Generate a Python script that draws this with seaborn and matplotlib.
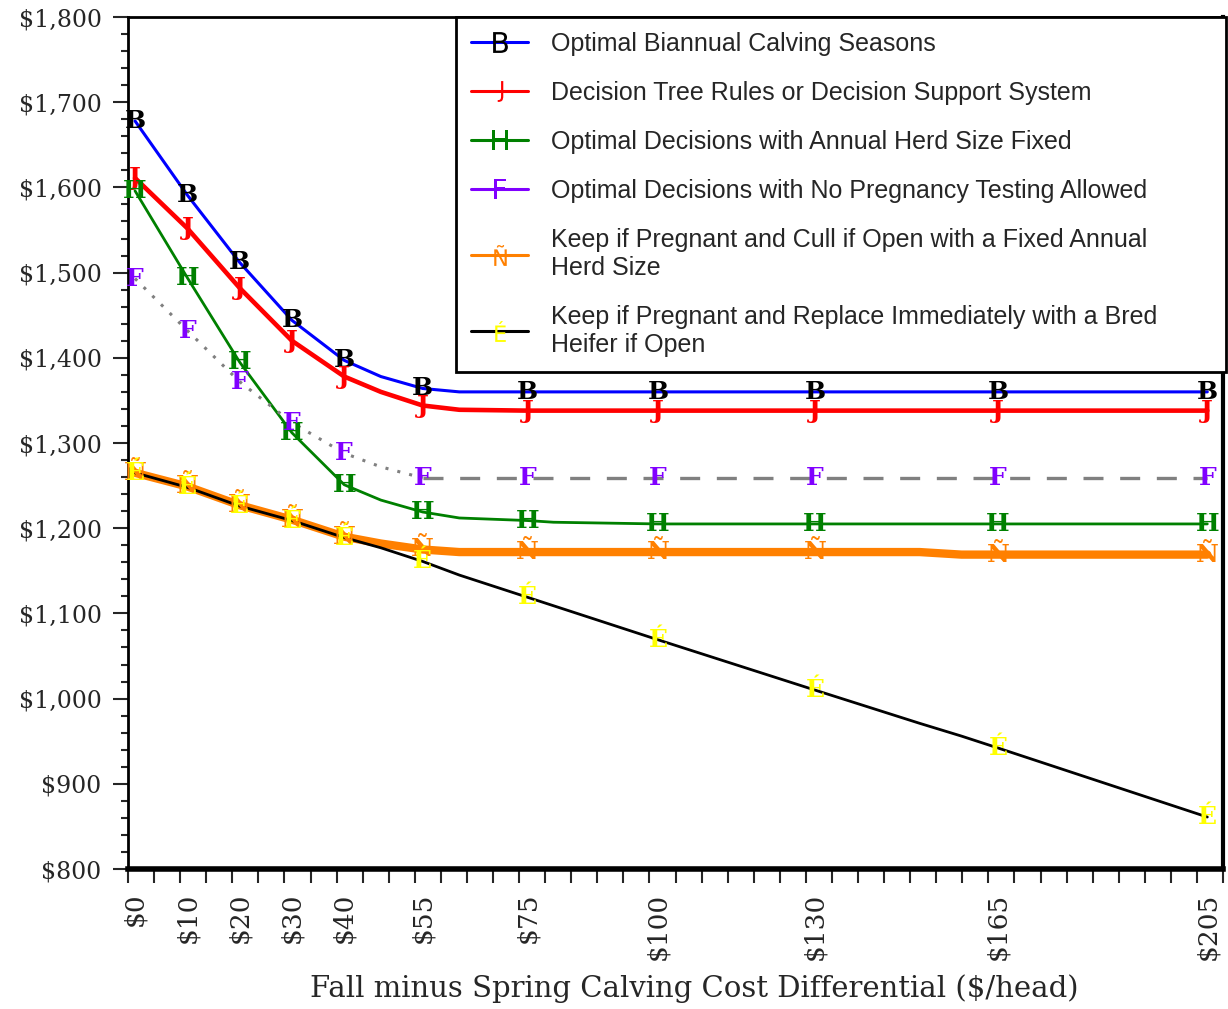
import numpy as np
import pandas as pd
import matplotlib
matplotlib.use("Agg")
import matplotlib.pyplot as plt
import seaborn as sns
from matplotlib.lines import Line2D
from matplotlib.ticker import FixedLocator, MultipleLocator
from matplotlib.font_manager import FontProperties

# ---------------- data ----------------
cost = [0, 10, 20, 30, 40, 47, 55, 62, 75, 80, 100, 130, 150, 158, 165, 205]
biannual = [1678, 1591, 1512, 1444, 1397, 1378, 1364, 1360, 1360, 1360, 1360, 1360, 1360, 1360, 1360, 1360]
decision_tree = [1611, 1552, 1482, 1420, 1378, 1360, 1344, 1339, 1338, 1338, 1338, 1338, 1338, 1338, 1338, 1338]
herd_fixed = [1596, 1494, 1395, 1312, 1251, 1233, 1219, 1212, 1209, 1207, 1205, 1205, 1205, 1205, 1205, 1205]
no_preg_test = [1493, 1432, 1372, 1324, 1288, 1272, 1259, 1259, 1259, 1259, 1259, 1259, 1259, 1259, 1259, 1259]
cull_open = [1265, 1249, 1227, 1210, 1190, 1182, 1175, 1172, 1172, 1172, 1172, 1172, 1172, 1169, 1169, 1169]
replace_bred = [1265, 1248, 1226, 1209, 1189, 1177, 1161, 1145, 1119, 1109, 1069, 1010, 971, 956, 942, 861]

tick_values = [0, 10, 20, 30, 40, 55, 75, 100, 130, 165, 205]
tick_labels = ["$0", "$10", "$20", "$30", "$40", "$55", "$75", "$100", "$130", "$165", "$205"]
y_ticks = [800, 900, 1000, 1100, 1200, 1300, 1400, 1500, 1600, 1700, 1800]
y_labels = ["$800", "$900", "$1,000", "$1,100", "$1,200", "$1,300", "$1,400",
            "$1,500", "$1,600", "$1,700", "$1,800"]

series_names = [
    "Optimal Biannual Calving Seasons",
    "Decision Tree Rules or Decision Support System",
    "Optimal Decisions with Annual Herd Size Fixed",
    "Optimal Decisions with No Pregnancy Testing Allowed",
    "Keep if Pregnant and Cull if Open with a Fixed Annual\nHerd Size",
    "Keep if Pregnant and Replace Immediately with a Bred\nHeifer if Open",
]
marker_letters = ["B", "J", "H", "F", "Ñ", "É"]

# ---------------- styling ----------------
sns.set_style("white")
plt.rcParams["font.family"] = ["DejaVu Serif"]

fig = plt.figure(figsize=(12.28, 10.09), dpi=100)
ax = fig.add_axes([128 / 1228, 1 - 869 / 1009, (1223 - 128) / 1228, (869 - 17) / 1009])

df = pd.DataFrame({"cost": cost, "biannual": biannual, "tree": decision_tree,
                   "herd": herd_fixed, "nopreg": no_preg_test,
                   "cull": cull_open, "replace": replace_bred})

line_colors = ["#0000ff", "#ff0000", "#008000", "#808080", "#ff8000", "#000000"]
legend_line_colors = ["#0000ff", "#ff0000", "#008000", "#8000ff", "#ff8000", "#000000"]
marker_colors = ["#000000", "#ff0000", "#008000", "#8000ff", "#ff8000", "#ffff00"]
cols = ["biannual", "tree", "herd", "nopreg", "cull", "replace"]

sns.lineplot(data=df, x="cost", y="biannual", ax=ax, color=line_colors[0], linewidth=2.2, legend=False)
sns.lineplot(data=df, x="cost", y="tree", ax=ax, color=line_colors[1], linewidth=3.3, legend=False)
sns.lineplot(data=df, x="cost", y="herd", ax=ax, color=line_colors[2], linewidth=2.0, legend=False)
sns.lineplot(data=df[df["cost"] <= 55], x="cost", y="nopreg", ax=ax, color=line_colors[3],
             linewidth=2.2, linestyle=(0, (1, 3)), legend=False)
sns.lineplot(data=df[df["cost"] >= 55], x="cost", y="nopreg", ax=ax, color=line_colors[3],
             linewidth=2.4, linestyle=(0, (6, 5)), legend=False)
sns.lineplot(data=df, x="cost", y="cull", ax=ax, color=line_colors[4], linewidth=6.0, legend=False)
sns.lineplot(data=df, x="cost", y="replace", ax=ax, color=line_colors[5], linewidth=2.0, legend=False)

# letter markers at the labelled cost values
for col, letter, mc in zip(cols, marker_letters, marker_colors):
    vals = dict(zip(df["cost"], df[col]))
    for xv in tick_values:
        ax.text(xv, vals[xv], letter, color=mc, fontsize=18, fontweight="bold",
                family="DejaVu Serif", ha="center", va="center", zorder=6)

# axes
ax.set_xlim(-1.34, 208.0)
ax.set_ylim(800, 1800)
ax.xaxis.set_major_locator(FixedLocator(tick_values))
ax.set_xticklabels([t.replace("$", "\\$") for t in tick_labels], rotation=90, fontsize=19)
ax.xaxis.set_minor_locator(FixedLocator(np.linspace(-1.34, 208.0, 43)))
ax.yaxis.set_major_locator(FixedLocator(y_ticks))
ax.set_yticklabels([t.replace("$", "\\$") for t in y_labels], fontsize=17)
ax.yaxis.set_minor_locator(MultipleLocator(20))

ax.tick_params(axis="x", which="major", length=0, pad=17, direction="out")
ax.tick_params(axis="x", which="minor", length=10, width=1.5, direction="out", bottom=True)
ax.tick_params(axis="y", which="major", length=11, width=1.5, pad=8, direction="out", left=True)
ax.tick_params(axis="y", which="minor", length=5, width=1.5, direction="out", left=True)

for side, lw in [("left", 2.0), ("bottom", 4.0), ("right", 3.0), ("top", 2.0)]:
    ax.spines[side].set_visible(True)
    ax.spines[side].set_linewidth(lw)
    ax.spines[side].set_color("black")

ax.set_xlabel("Fall minus Spring Calving Cost Differential ($/head)", fontsize=21)
ax.set_ylabel("")
ax.xaxis.set_label_coords(0.517, -0.124)

# legend
handles = []
for lc, mc, letter in zip(legend_line_colors, marker_colors, marker_letters):
    handles.append(Line2D([], [], color=lc, linewidth=2.2,
                          marker=r"$\mathrm{" + letter + "}$", markersize=15,
                          markerfacecolor=mc, markeredgecolor=mc, markeredgewidth=0))
leg = ax.legend(handles, series_names, loc="upper left",
                bbox_to_anchor=(0.2995, 0.0, 0.7032, 1.0), mode="expand",
                borderaxespad=0, frameon=True, fancybox=False, framealpha=1,
                edgecolor="black", prop=FontProperties(family="Liberation Sans", size=18),
                handlelength=2.3, handletextpad=0.9, labelspacing=1.0, borderpad=0.6,
                numpoints=1)
leg.get_frame().set_linewidth(2.0)
for t in leg.get_texts():
    t.set_linespacing(1.2)

fig.savefig("out.png", dpi=100)
